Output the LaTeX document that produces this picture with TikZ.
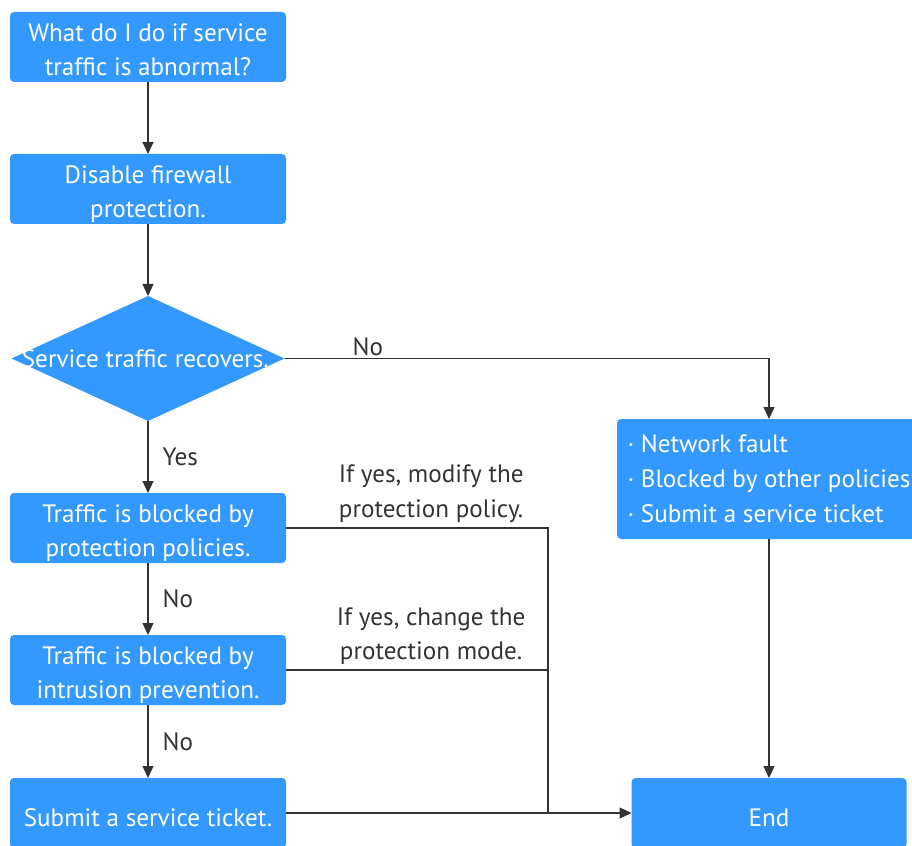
\documentclass[tikz,border=0pt]{standalone}
\usepackage{fontspec}
\setmainfont{PT Sans}
\usepackage{xcolor}
\usepackage{tikz}
\usetikzlibrary{shapes.geometric,arrows.meta,positioning}

\definecolor{hwblue}{HTML}{3399FF}
\definecolor{hwline}{HTML}{333333}

\begin{document}
\begin{tikzpicture}[
    node distance=1.44cm,
    font=\fontsize{14.3}{19.8}\selectfont,
    box/.style={rectangle, rounded corners=0.08cm, fill=hwblue, text=white,
        minimum width=5.52cm, minimum height=1.4cm, inner sep=0pt, outer sep=0pt, align=center},
    oneline/.style={text height=15.6pt},
    twolines/.style={text height=36pt, text depth=3.2pt},
    decision/.style={diamond, fill=hwblue, minimum width=5.46cm, minimum height=2.5cm, inner sep=0pt, outer sep=0pt},
    line/.style={hwline, line width=0.7pt},
    arrow/.style={line, -{Triangle[length=0.24cm,width=0.22cm]}},
    note/.style={text=hwline, align=center, inner sep=0pt}
]
    \useasboundingbox (0,0) rectangle (18.24,-16.92);

    \node[box, twolines] (start) at (2.96,-0.94) {What do I do if service\\traffic is abnormal?};
    \node[box, twolines, below=of start] (disable) {Disable firewall\\protection.};
    \node[decision, below=of disable, label={[text=white, xshift=-1.5pt]center:Service traffic recovers.}] (check) {};
    \node[box, twolines, below=of check] (policy) {Traffic is blocked by\\protection policies.};
    \node[box, twolines, below=of policy] (intrusion) {Traffic is blocked by\\intrusion prevention.};
    \node[box, oneline, below=1.46cm of intrusion] (ticket) {Submit a service ticket.};

    \node[box, minimum width=6.08cm, minimum height=2.4cm, align=left] (causes) at (15.38,-9.58)
        {· Network fault\\· Blocked by other policies\\· Submit a service ticket};
    \node[box, oneline, minimum width=5.5cm] (end) at (causes |- ticket) {End};

    \coordinate[right=5.24cm of ticket.east] (join);

    \draw[arrow] (start) -- (disable);
    \draw[arrow] (disable) -- (check);
    \draw[arrow] (check) -- node[note, right=0.28cm] {Yes} (policy);
    \draw[arrow] (policy) -- node[note, right=0.28cm] {No} (intrusion);
    \draw[arrow] (intrusion) -- node[note, right=0.28cm] {No} (ticket);
    \draw[arrow] (check.east) -| node[note, above=0.04cm, pos=0.086] {No} (causes.north);
    \draw[arrow] (causes) -- (end);

    \draw[line] (policy.east) -| node[note, above=0.09cm, pos=0.277] {If yes, modify the\\protection policy.} (join);
    \draw[line] (intrusion.east) -| node[note, above=0.09cm, pos=0.277] {If yes, change the\\protection mode.} (join);
    \draw[arrow] (ticket) -- (end);
\end{tikzpicture}
\end{document}
